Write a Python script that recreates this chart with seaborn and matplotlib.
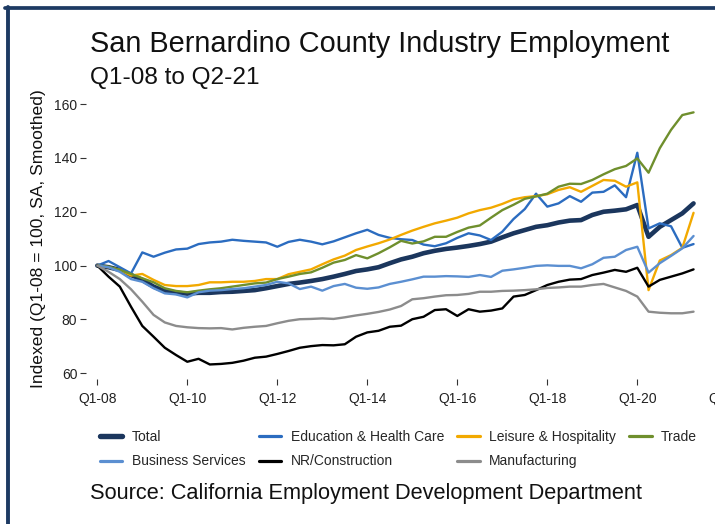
import matplotlib
matplotlib.use("Agg")
import matplotlib.pyplot as plt
import matplotlib.lines as mlines
import seaborn as sns
import pandas as pd

# quarterly index values, Q1-08 .. Q2-21 (54 quarters)
total = [100, 99.4, 98.4, 96.5, 94.7, 92.2, 90.5, 89.9, 89.6, 89.9,
         89.9, 90.2, 90.3, 90.6, 90.9, 91.6, 92.4, 93.2, 93.7, 94.3,
         95, 95.9, 96.9, 98, 98.6, 99.4, 100.9, 102.3, 103.3, 104.6,
         105.5, 106.2, 106.7, 107.3, 108, 108.9, 110.5, 112, 113.2, 114.4,
         115, 116, 116.7, 116.9, 118.8, 120, 120.4, 120.9, 122.5, 110.7,
         114.4, 116.9, 119.4, 123.1]
edu_health = [100, 101.7, 99.4, 97.1, 104.9, 103.3, 104.8, 106, 106.3, 108,
              108.6, 108.9, 109.6, 109.2, 108.9, 108.6, 107, 108.8, 109.6, 108.9,
              107.9, 109, 110.5, 112, 113.3, 111.4, 110.3, 109.8, 109.5, 107.8,
              107.2, 108.3, 110.3, 112, 111.2, 109.5, 112.6, 117.3, 121, 126.7,
              121.9, 123.1, 125.8, 123.7, 127.1, 127.4, 129.8, 125.4, 141.9, 113.8,
              115.7, 114.6, 106.6, 108]
leisure = [100, 99.4, 98.4, 96.3, 96.9, 94.7, 92.8, 92.4, 92.4, 92.8,
           93.8, 93.8, 94, 94, 94.3, 95, 95, 96.8, 97.7, 98.6,
           100.5, 102.3, 103.7, 105.8, 107.1, 108.3, 109.7, 111.4, 113, 114.4,
           115.7, 116.7, 117.8, 119.4, 120.6, 121.5, 122.9, 124.6, 125.4, 125.8,
           126.5, 128.1, 129.1, 127.4, 129.6, 131.8, 131.5, 129.3, 130.9, 90.9,
           101.9, 103.9, 106.6, 119.6]
trade = [100, 99.6, 98.4, 96.9, 95.3, 93.8, 91.6, 90.6, 90.1, 90.7,
         91.2, 91.6, 92.2, 92.8, 93.4, 93.7, 95, 95.9, 96.9, 97.5,
         99.2, 101.1, 102.1, 103.9, 102.7, 104.6, 106.8, 109.2, 108.2, 109,
         110.7, 110.7, 112.5, 114.1, 114.9, 117.8, 120.6, 122.6, 124.8, 125.7,
         126.7, 129.3, 130.4, 130.3, 131.8, 133.9, 135.8, 137, 139.8, 134.5,
         143.6, 150.4, 155.9, 156.9]
business = [100, 99.4, 97.7, 95, 94, 91.6, 89.7, 89.3, 88.2, 90.1,
            90.7, 90.9, 91.3, 91.6, 92.2, 92.8, 94, 93.4, 91.3, 92.2,
            90.7, 92.4, 93.2, 91.8, 91.4, 91.9, 93.2, 94, 94.9, 95.9,
            95.9, 96.1, 96, 95.8, 96.5, 95.8, 98.1, 98.6, 99.2, 99.9,
            100.1, 99.9, 99.9, 99, 100.5, 102.9, 103.3, 105.8, 107, 97.4,
            100.9, 103.6, 106.4, 111]
construction = [100, 95.9, 92.2, 84.7, 77.6, 73.6, 69.5, 66.8, 64.3, 65.4,
                63.3, 63.5, 63.9, 64.7, 65.8, 66.2, 67.2, 68.3, 69.5, 70.1,
                70.5, 70.4, 70.8, 73.6, 75.2, 75.8, 77.3, 77.7, 80.1, 81,
                83.5, 83.8, 81.3, 83.8, 82.9, 83.3, 84.1, 88.5, 89.1, 90.9,
                92.8, 94, 94.8, 95, 96.5, 97.4, 98.4, 97.7, 99.2, 92.2,
                94.7, 95.9, 97.1, 98.6]
manufacturing = [100, 97.7, 95, 91.2, 86.6, 81.7, 78.9, 77.6, 77.1, 76.8,
                 76.7, 76.8, 76.3, 76.9, 77.3, 77.6, 78.6, 79.5, 80.1, 80.2,
                 80.4, 80.2, 80.8, 81.5, 82.1, 82.8, 83.7, 85, 87.5, 87.9,
                 88.5, 89, 89.1, 89.5, 90.3, 90.3, 90.6, 90.7, 90.9, 91.2,
                 91.7, 91.9, 92.2, 92.2, 92.8, 93.2, 91.9, 90.6, 88.5, 82.9,
                 82.5, 82.3, 82.3, 82.9]

series_names = ["Total", "Education & Health Care", "Leisure & Hospitality", "Trade",
                "Business Services", "NR/Construction", "Manufacturing"]
series_values = [total, edu_health, leisure, trade, business, construction, manufacturing]
colors = ["#1b365d", "#2b6cc0", "#f2a900", "#6f8f2d", "#5b8fd1", "#000000", "#8c8c8c"]
widths = [3.3, 1.7, 1.7, 1.7, 1.7, 1.7, 1.7]

tick_pos = [0, 8, 16, 24, 32, 40, 48, 56]
tick_labels = ["Q1-08", "Q1-10", "Q1-12", "Q1-14", "Q1-16", "Q1-18", "Q1-20", "Q1-22"]

rows = []
for name, vals in zip(series_names, series_values):
    for i, v in enumerate(vals):
        rows.append({"quarter": i, "index": v, "industry": name})
df = pd.DataFrame(rows)

sns.set_style("white")
plt.rcParams['font.family'] = ['Liberation Sans', 'DejaVu Sans']

W, H = 715, 524
fig = plt.figure(figsize=(W / 100, H / 100), dpi=100)
# axes runs past the right edge of the picture, like the cropped original
ax = fig.add_axes([86.3 / W, (H - 379) / H, 663.5 / W, 280 / H])

handles = []
for name, col, lw in zip(series_names, colors, widths):
    sns.lineplot(data=df[df["industry"] == name], x="quarter", y="index",
                 color=col, linewidth=lw, ax=ax, legend=False)
    handles.append(mlines.Line2D([], [], color=col, lw=lw + 0.6))

ax.set_xlim(-0.978, 58.0)
ax.set_ylim(57.9, 161.86)
ax.set_xticks(tick_pos)
ax.set_xticklabels(tick_labels)
ax.set_yticks([60, 80, 100, 120, 140, 160])
for s in ax.spines.values():
    s.set_visible(False)
ax.tick_params(axis="both", bottom=True, left=True, length=4.5, width=0.8,
               color="#333333", labelsize=10, labelcolor="#222222")
ax.tick_params(axis="y", pad=2)
ax.tick_params(axis="x", pad=5)
ax.set_xlabel("")
ax.set_ylabel("Indexed (Q1-08 = 100, SA, Smoothed)", fontsize=12.6, color="#111111")
ax.yaxis.set_label_coords((46 - 86.3) / 663.5, 0.5)

fig.text(90 / W, 1 - 52 / H, "San Bernardino County Industry Employment",
         fontsize=20.8, va="baseline", color="#111111")
fig.text(90 / W, 1 - 84 / H, "Q1-08 to Q2-21", fontsize=17.6, va="baseline", color="#111111")
fig.text(90 / W, 1 - 494 / H, "Source: California Employment Development Department",
         fontsize=15.7, va="center", color="#111111")

# row-wise order for a 4-column legend
order = [0, 4, 1, 5, 2, 6, 3]
fig.legend([handles[k] for k in order], [series_names[k] for k in order],
           ncol=4, loc="upper left", bbox_to_anchor=(100 / W, 1 - 430 / H),
           frameon=False, fontsize=10, handlelength=1.6, handletextpad=0.7,
           columnspacing=0.95, labelspacing=0.75, borderpad=0, borderaxespad=0)

# navy frame (top and left edges visible)
frame = "#1d3a63"
fig.add_artist(mlines.Line2D([5 / W, 1], [1 - 8.3 / H] * 2, transform=fig.transFigure,
                             color=frame, lw=2.7))
fig.add_artist(mlines.Line2D([8 / W, 8 / W], [0, 1 - 6.5 / H], transform=fig.transFigure,
                             color=frame, lw=2.8))

fig.savefig("out.png", dpi=100)
